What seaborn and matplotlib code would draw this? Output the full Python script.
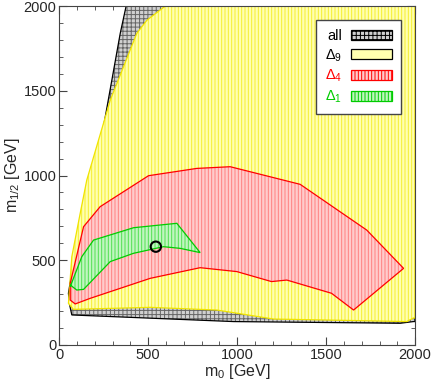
import numpy as np
import matplotlib
matplotlib.use("Agg")
import matplotlib.pyplot as plt
import seaborn as sns
from matplotlib.patches import Patch
from matplotlib.ticker import MultipleLocator

# region boundaries (m0, m1/2) in GeV
all_m0 = [52, 137, 202, 343, 376, 596, 2000, 2000, 1990, 1916, 979, 71, 58]
all_m12 = [305, 855, 1013, 1839, 2000, 2000, 2000, 138, 138, 128, 138, 177, 240]

d9_m0 = [52, 71, 118, 155, 287, 436, 493, 596, 2000, 2000, 1990, 1953, 1204, 886, 511, 80]
d9_m12 = [246, 521, 777, 973, 1445, 1839, 1917, 2000, 2000, 159, 159, 138, 153, 206, 222, 210]

d4_m0 = [62, 137, 230, 502, 773, 961, 1354, 1728, 1935, 1654, 1530, 1279, 1193, 998, 792, 511, 174, 90, 62]
d4_m12 = [364, 698, 816, 999, 1042, 1052, 948, 678, 452, 206, 305, 383, 374, 433, 456, 393, 275, 242, 265]

d1_m0 = [62, 127, 193, 418, 661, 792, 680, 586, 418, 287, 137, 99, 62]
d1_m12 = [344, 521, 619, 692, 718, 545, 570, 580, 541, 492, 328, 324, 354]

best_m0 = [543]
best_m12 = [580]

sns.set_style("ticks")
plt.rcParams["font.family"] = ["Liberation Sans", "DejaVu Sans"]
plt.rcParams["mathtext.fontset"] = "custom"
plt.rcParams["mathtext.rm"] = "Liberation Sans"
plt.rcParams["mathtext.it"] = "Liberation Sans"
plt.rcParams["hatch.linewidth"] = 0.7

fig, ax = plt.subplots(figsize=(4.32, 3.82), dpi=100)

# face, hatch colour, outline colour, hatch
styles = [
    (all_m0, all_m12, "#d0d0d0", "#666666", "black", "++++"),
    (d9_m0, d9_m12, "#ffffb0", "#f5ee30", "#f0e400", "|||||"),
    (d4_m0, d4_m12, "#ffcccc", "#ff8080", "red", "|||||"),
    (d1_m0, d1_m12, "#c0f6c0", "#50e050", "#00cc00", "|||||"),
]
for xs, ys, face, hatchc, edge, hatch in styles:
    ax.fill(xs, ys, facecolor=face, edgecolor=hatchc, hatch=hatch, linewidth=0)
    ax.fill(xs, ys, facecolor="none", edgecolor=edge, linewidth=0.9)

sns.scatterplot(x=best_m0, y=best_m12, ax=ax, s=55, facecolor="none",
                edgecolor="black", linewidth=1.5, zorder=5)

ax.set_xlim(0, 2000)
ax.set_ylim(0, 2000)
ax.xaxis.set_major_locator(MultipleLocator(500))
ax.yaxis.set_major_locator(MultipleLocator(500))
ax.xaxis.set_minor_locator(MultipleLocator(100))
ax.yaxis.set_minor_locator(MultipleLocator(100))
ax.tick_params(which="both", direction="in", top=True, right=True, labelsize=10.5,
               color="#444444", pad=2)
ax.tick_params(which="major", length=6)
ax.tick_params(which="minor", length=3)
ax.set_xlabel("m$_0$ [GeV]", fontsize=11.5, labelpad=0)
ax.set_ylabel("m$_{1/2}$ [GeV]", fontsize=11.5, labelpad=1)
for s in ax.spines.values():
    s.set_color("#444444")

handles = [
    Patch(facecolor="#d0d0d0", edgecolor="black", hatch="++++", linewidth=0.9),
    Patch(facecolor="#ffffb0", edgecolor="black", linewidth=0.9),
    Patch(facecolor="#ffcccc", edgecolor="red", hatch="|||||", linewidth=0.9),
    Patch(facecolor="#c0f6c0", edgecolor="#00cc00", hatch="|||||", linewidth=0.9),
]
labels = ["all", r"$\Delta_9$", r"$\Delta_4$", r"$\Delta_1$"]
leg = ax.legend(handles, labels, loc="upper right", markerfirst=False, fontsize=10.5,
                frameon=True, fancybox=False, edgecolor="#444444", framealpha=1,
                bbox_to_anchor=(0.98, 0.98), handlelength=2.8, handleheight=0.7,
                labelspacing=0.3, borderpad=0.6, handletextpad=0.6)
leg.get_frame().set_linewidth(1.0)
for t, c in zip(leg.get_texts(), ["black", "black", "red", "#00cc00"]):
    t.set_color(c)

fig.subplots_adjust(left=0.137, right=0.961, top=0.984, bottom=0.097)
fig.savefig("out.png", dpi=100)
